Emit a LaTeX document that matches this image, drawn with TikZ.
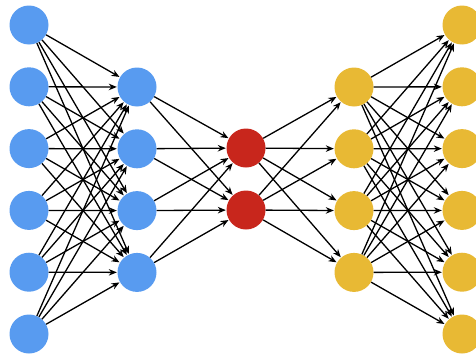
\documentclass[tikz,border=0pt]{standalone}
\usetikzlibrary{arrows.meta}
\definecolor{inblue}{RGB}{88,155,240}
\definecolor{codered}{RGB}{200,38,28}
\definecolor{outyellow}{RGB}{232,185,52}
\begin{document}
\begin{tikzpicture}[x=1pt,y=-1pt,
  neuron/.style={circle,minimum size=39pt,inner sep=0pt,draw=none},
  link/.style={line width=1.3pt,-{Stealth[length=8pt,width=6.5pt]},shorten >=0.5pt}]
  \useasboundingbox (0,0) rectangle (476,356);
  % layer 1 and 5: six neurons; layer 2 and 4: four; layer 3: two
  \foreach \i in {1,...,6} {
    \node[neuron,fill=inblue] (a\i) at (29,{25+61.8*(\i-1)}) {};
    \node[neuron,fill=outyellow] (e\i) at (462,{25+61.8*(\i-1)}) {};
  }
  \foreach \i in {1,...,4} {
    \node[neuron,fill=inblue] (b\i) at (137,{87+61.8*(\i-1)}) {};
    \node[neuron,fill=outyellow] (d\i) at (354,{87+61.8*(\i-1)}) {};
  }
  \foreach \i in {1,2} {
    \node[neuron,fill=codered] (c\i) at (246,{148+62*(\i-1)}) {};
  }
  % fully connected links between neighbouring layers
  \foreach \i in {1,...,6} \foreach \j in {1,...,4}
    \draw[link] (a\i) -- (b\j);
  \foreach \i in {1,...,4} \foreach \j in {1,2}
    \draw[link] (b\i) -- (c\j);
  \foreach \i in {1,2} \foreach \j in {1,...,4}
    \draw[link] (c\i) -- (d\j);
  \foreach \i in {1,...,4} \foreach \j in {1,...,6}
    \draw[link] (d\i) -- (e\j);
\end{tikzpicture}
\end{document}
